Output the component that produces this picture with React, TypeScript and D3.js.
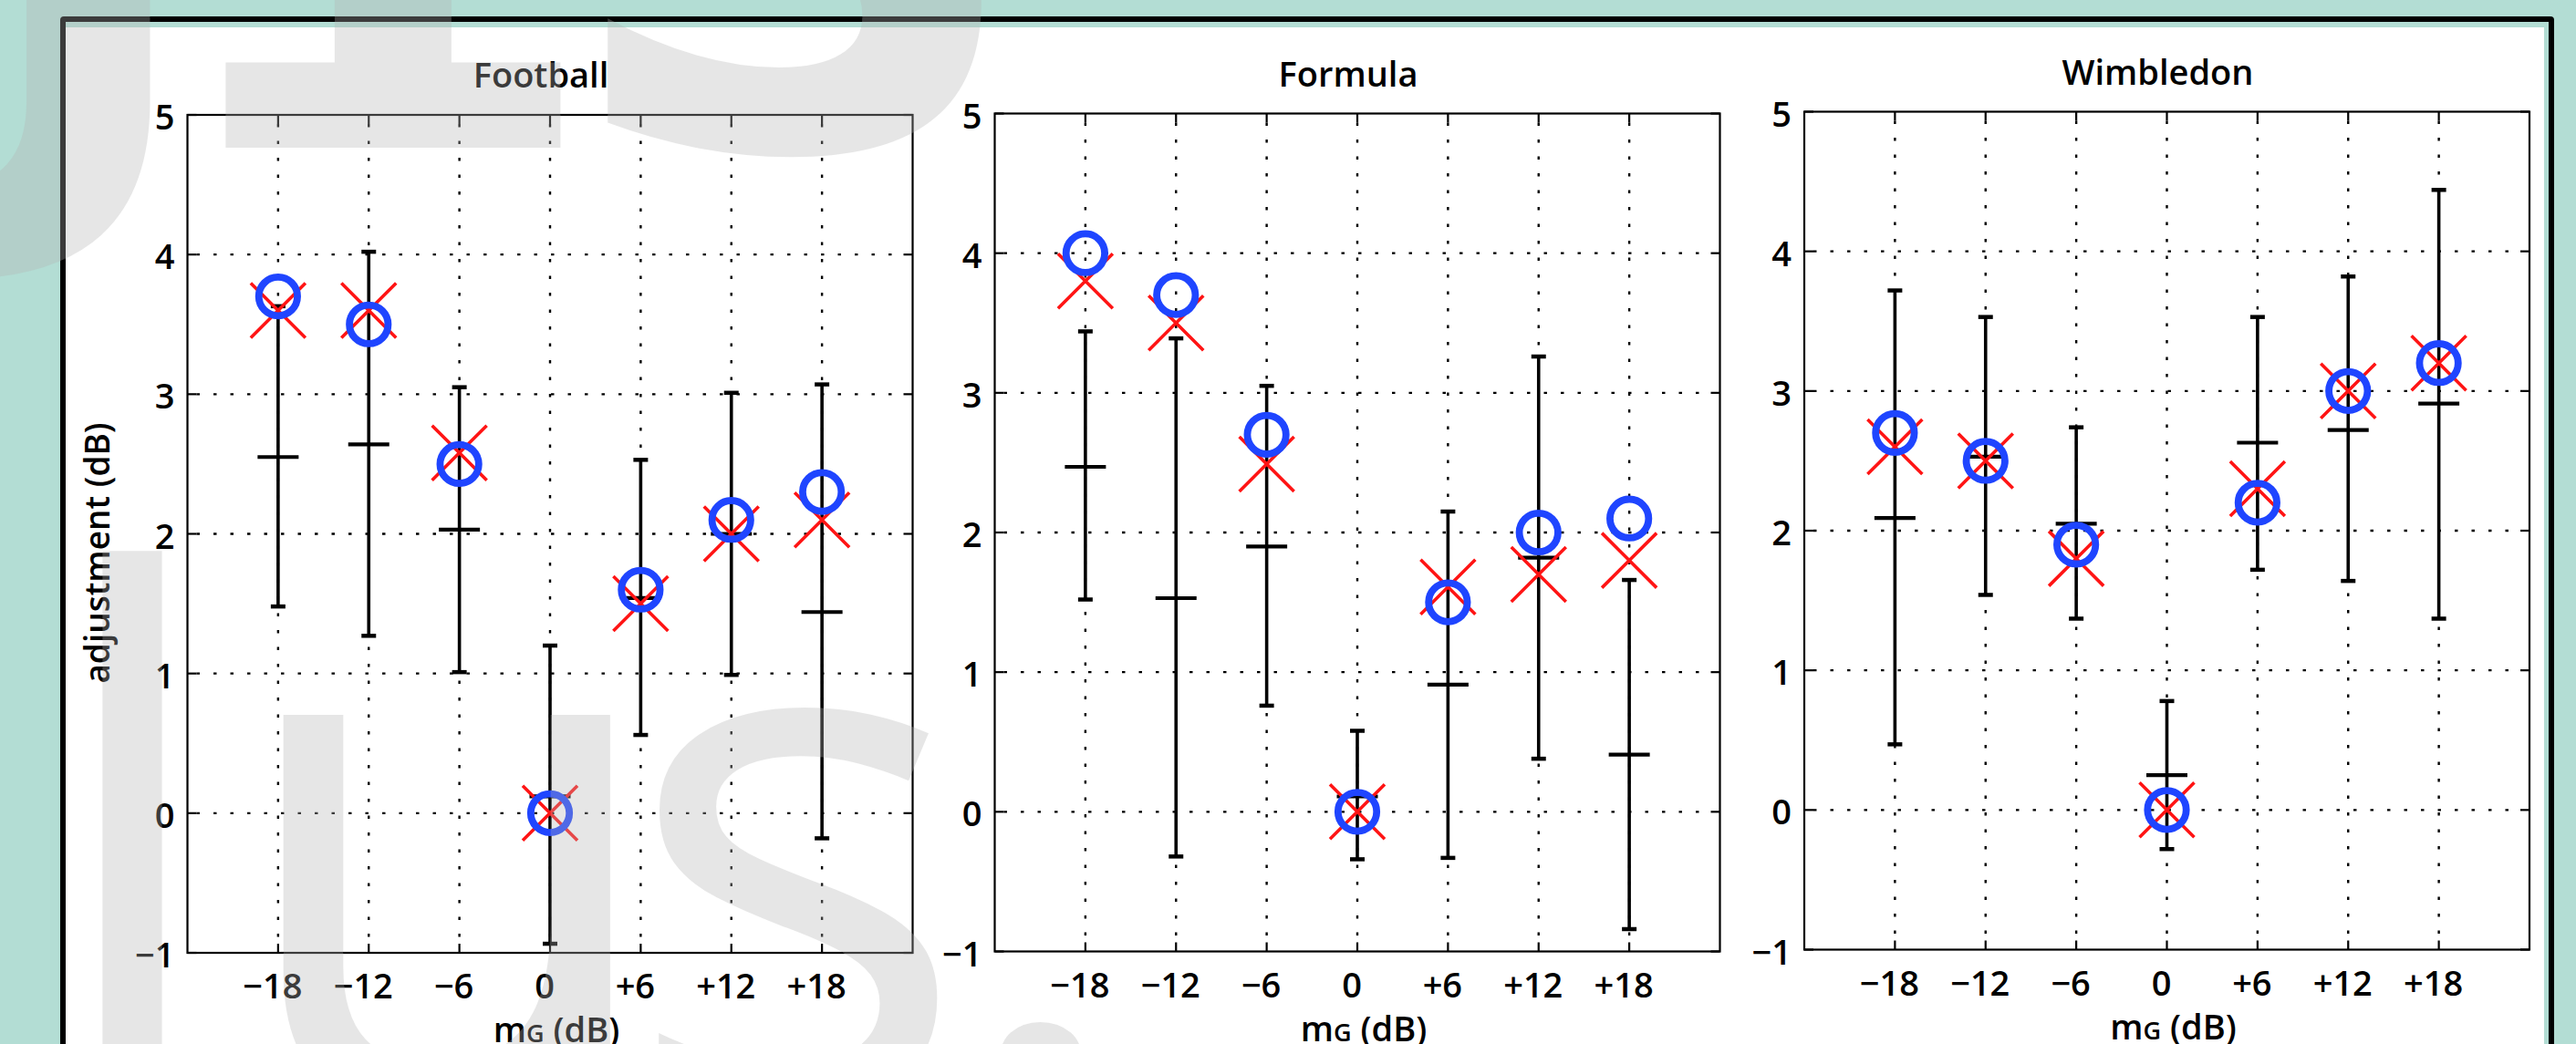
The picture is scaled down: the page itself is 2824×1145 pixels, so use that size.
import React from 'react';
import * as d3 from 'd3';

const W = 2824;
const H = 1145;

// ---------- data ----------
const mgLevels = [-18, -12, -6, 0, 6, 12, 18];
const mgLabels = ['\u221218', '\u221212', '\u22126', '0', '+6', '+12', '+18'];
const yTicks = [-1, 0, 1, 2, 3, 4, 5];
const yTickLabels = ['\u22121', '0', '1', '2', '3', '4', '5'];
const panelTitles = ['Football', 'Formula', 'Wimbledon'];

// blue circles
const footballCircle = [3.7, 3.5, 2.5, 0, 1.6, 2.1, 2.3];
const formulaCircle = [4.0, 3.7, 2.7, 0, 1.5, 2.0, 2.1];
const wimbledonCircle = [2.7, 2.5, 1.9, 0, 2.2, 3.0, 3.2];
// red crosses
const footballCross = [3.6, 3.6, 2.58, 0, 1.5, 2.0, 2.1];
const formulaCross = [3.8, 3.5, 2.49, 0, 1.61, 1.7, 1.8];
const wimbledonCross = [2.6, 2.5, 1.8, 0, 2.3, 3.0, 3.2];
// black error bars: centre tick, upper and lower ends
const footballMid = [2.55, 2.64, 2.03, 0.12, 1.54, 2.0, 1.44];
const footballHigh = [3.63, 4.02, 3.05, 1.2, 2.53, 3.01, 3.07];
const footballLow = [1.48, 1.27, 1.01, -0.935, 0.56, 0.99, -0.18];
const formulaMid = [2.47, 1.53, 1.9, 0.11, 0.91, 1.82, 0.41];
const formulaHigh = [3.44, 3.39, 3.05, 0.58, 2.15, 3.26, 1.66];
const formulaLow = [1.52, -0.32, 0.76, -0.34, -0.33, 0.38, -0.84];
const wimbledonMid = [2.09, 2.53, 2.05, 0.25, 2.63, 2.72, 2.91];
const wimbledonHigh = [3.72, 3.53, 2.74, 0.78, 3.53, 3.82, 4.44];
const wimbledonLow = [0.47, 1.54, 1.37, -0.28, 1.72, 1.64, 1.37];

const panels = [
  { title: panelTitles[0], circle: footballCircle, cross: footballCross, mid: footballMid, high: footballHigh, low: footballLow },
  { title: panelTitles[1], circle: formulaCircle, cross: formulaCross, mid: formulaMid, high: formulaHigh, low: formulaLow },
  { title: panelTitles[2], circle: wimbledonCircle, cross: wimbledonCross, mid: wimbledonMid, high: wimbledonHigh, low: wimbledonLow },
];

// ---------- layout ----------
const plotLefts = [205.5, 1090.5, 1978];
const plotTops = [126, 124.5, 122.5];
const plotW = 795;
const plotH = 919;
const FONT = '"Open Sans", "Noto Sans", sans-serif';
const FW = 600;
const TEAL = 'rgb(179,221,212)';
const BLUE = '#1f45ff';
const RED = '#ff1414';

function Panel({ p, i }: { p: any; i: number }) {
  const left = plotLefts[i];
  const top = plotTops[i];
  const x = d3.scaleLinear().domain([-24, 24]).range([left, left + plotW]);
  const y = d3.scaleLinear().domain([-1, 5]).range([top + plotH, top]);
  const right = left + plotW;
  const bottom = top + plotH;
  const cx = (left + right) / 2;
  const tick = 10;
  const grid = { stroke: '#000', strokeWidth: 2.4, strokeDasharray: '3.5 15' };
  return (
    <g>
      {/* grid */}
      {mgLevels.map((v) => (
        <line key={'gx' + v} x1={x(v)} x2={x(v)} y1={top + tick} y2={bottom - tick} {...grid} />
      ))}
      {yTicks.slice(1, -1).map((v) => (
        <line key={'gy' + v} x1={left + tick} x2={right - tick} y1={y(v)} y2={y(v)} {...grid} />
      ))}
      {/* box */}
      <rect x={left} y={top} width={plotW} height={plotH} fill="none" stroke="#000" strokeWidth={2.2} />
      {mgLevels.map((v) => (
        <g key={'tx' + v}>
          <line x1={x(v)} x2={x(v)} y1={top} y2={top + tick} stroke="#000" strokeWidth={2.2} />
          <line x1={x(v)} x2={x(v)} y1={bottom} y2={bottom - tick} stroke="#000" strokeWidth={2.2} />
        </g>
      ))}
      {yTicks.map((v) => (
        <g key={'ty' + v}>
          <line x1={left} x2={left + tick} y1={y(v)} y2={y(v)} stroke="#000" strokeWidth={2.2} />
          <line x1={right} x2={right - tick} y1={y(v)} y2={y(v)} stroke="#000" strokeWidth={2.2} />
        </g>
      ))}
      {/* tick labels */}
      {mgLevels.map((v, k) => (
        <text key={'lx' + v} x={x(v) - 6} y={bottom + 50} textAnchor="middle" fontFamily={FONT} fontWeight={FW} fontSize={38} fill="#000">
          {mgLabels[k]}
        </text>
      ))}
      {yTicks.map((v, k) => (
        <text key={'ly' + v} x={left - 14} y={y(v) + 16} textAnchor="end" fontFamily={FONT} fontWeight={FW} fontSize={38} fill="#000">
          {yTickLabels[k]}
        </text>
      ))}
      {/* title */}
      <text x={cx - 10} y={top - 30} textAnchor="middle" fontFamily={FONT} fontWeight={FW} fontSize={38} fill="#000">
        {p.title}
      </text>
      {/* x label */}
      <text x={cx + 7} y={bottom + 98} textAnchor="middle" fontFamily={FONT} fontWeight={FW} fontSize={38} fill="#000">
        m<tspan fontSize={27}>G</tspan> (dB)
      </text>
      {i === 0 && (
        <text transform={`translate(120, ${top + plotH / 2 + 21}) rotate(-90)`} textAnchor="middle" fontFamily={FONT} fontWeight={FW} fontSize={37} fill="#000">
          adjustment (dB)
        </text>
      )}
      {/* error bars */}
      {mgLevels.map((v, k) => {
        const xx = x(v);
        return (
          <g key={'eb' + v} stroke="#000">
            <line x1={xx} x2={xx} y1={y(p.low[k])} y2={y(p.high[k])} strokeWidth={3.6} />
            <line x1={xx - 8} x2={xx + 8} y1={y(p.low[k])} y2={y(p.low[k])} strokeWidth={4.5} />
            <line x1={xx - 8} x2={xx + 8} y1={y(p.high[k])} y2={y(p.high[k])} strokeWidth={4.5} />
            <line x1={xx - 22.5} x2={xx + 22.5} y1={y(p.mid[k])} y2={y(p.mid[k])} strokeWidth={4.2} />
          </g>
        );
      })}
      {/* red crosses */}
      {mgLevels.map((v, k) => {
        const xx = x(v);
        const yy = y(p.cross[k]);
        const s = 30;
        return (
          <path key={'cr' + v} d={`M${xx - s},${yy - s}L${xx + s},${yy + s}M${xx - s},${yy + s}L${xx + s},${yy - s}`} stroke={RED} strokeWidth={3.6} fill="none" />
        );
      })}
      {/* blue circles */}
      {mgLevels.map((v, k) => (
        <circle key={'ci' + v} cx={x(v)} cy={y(p.circle[k])} r={21.2} fill="none" stroke={BLUE} strokeWidth={7.8} />
      ))}
    </g>
  );
}

export default function App() {
  const wmFill = 'rgb(178,178,178)';
  const wmOpacity = 0.33;
  return (
    <svg width={W} height={H} style={{ position: 'absolute', left: 0, top: 0, display: 'block' }} xmlns="http://www.w3.org/2000/svg">
      <rect x={0} y={0} width={W} height={H} fill={TEAL} />
      <rect x={66} y={18} width={2734} height={1300} fill="#000" rx={4} />
      <rect x={72} y={24} width={2722} height={1300} fill={TEAL} />
      <rect x={72} y={30} width={2717} height={1300} fill="#fff" />
      {panels.map((p, i) => (
        <Panel key={p.title} p={p} i={i} />
      ))}
      {/* faint watermark */}
      <g fill={wmFill} fillOpacity={wmOpacity} style={{ pointerEvents: 'none' }}>
        <text y={162} fontFamily='"DejaVu Sans", sans-serif' fontWeight="bold" fontSize={720}>
          <tspan x={-37}>J</tspan>
          <tspan x={163}>1</tspan>
          <tspan x={610}>S</tspan>
        </text>
        <text y={1212} fontFamily={FONT} fontSize={800}>
          <tspan x={44}>l</tspan>
          <tspan x={247}>u</tspan>
          <tspan x={682}>s</tspan>
          <tspan x={1036}>.</tspan>
        </text>
      </g>
    </svg>
  );
}
